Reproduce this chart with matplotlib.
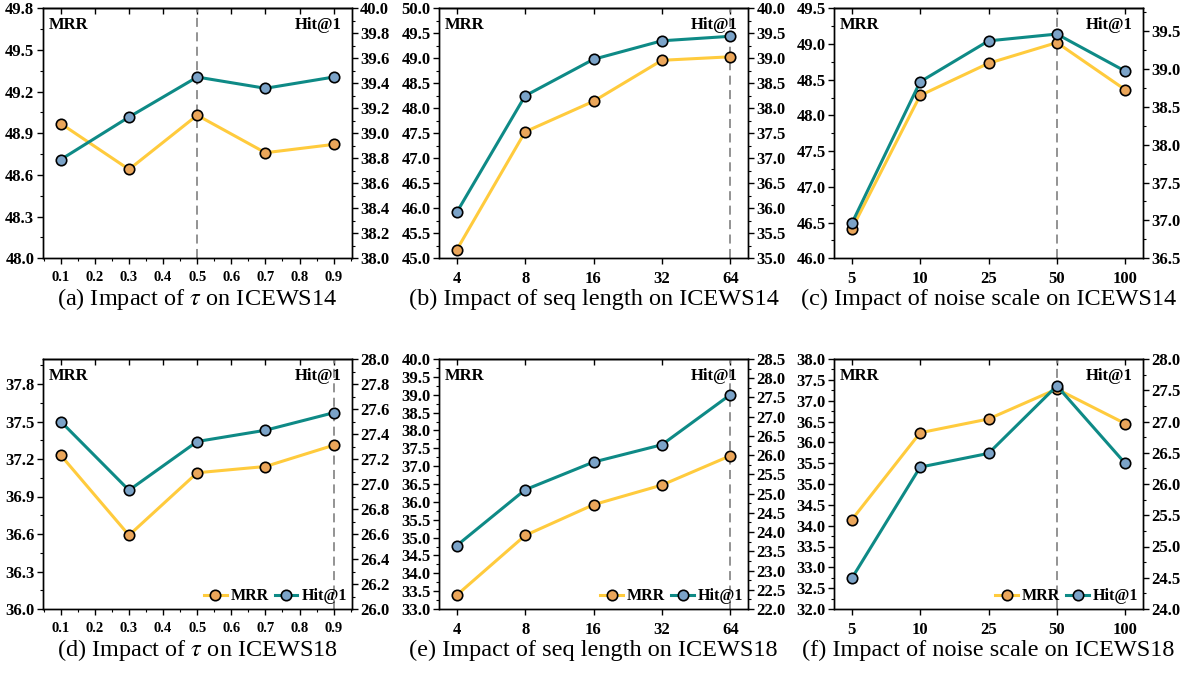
import matplotlib
matplotlib.use("Agg")
import matplotlib.pyplot as plt
import numpy as np
from matplotlib.ticker import MultipleLocator
from matplotlib.lines import Line2D

plt.rcParams["font.family"] = ["Liberation Serif", "DejaVu Serif"]
plt.rcParams["mathtext.fontset"] = "stix"
plt.rcParams["axes.linewidth"] = 1.0

# x categories
TAU = [0.1, 0.3, 0.5, 0.7, 0.9]
SEQ = ["4", "8", "16", "32", "64"]
NOISE = ["5", "10", "25", "50", "100"]

# ICEWS14
mrr_tau_14 = [48.97, 48.64, 49.03, 48.76, 48.82]
hit_tau_14 = [38.79, 39.13, 39.45, 39.36, 39.45]
mrr_seq_14 = [45.17, 47.53, 48.14, 48.96, 49.03]
hit_seq_14 = [35.92, 38.25, 38.98, 39.35, 39.44]
mrr_noise_14 = [46.41, 48.28, 48.73, 49.02, 48.36]
hit_noise_14 = [36.96, 38.83, 39.37, 39.46, 38.97]

# ICEWS18
mrr_tau_18 = [37.23, 36.59, 37.09, 37.14, 37.31]
hit_tau_18 = [27.50, 26.95, 27.34, 27.43, 27.57]
mrr_seq_18 = [33.39, 35.06, 35.92, 36.47, 37.29]
hit_seq_18 = [23.65, 25.10, 25.82, 26.27, 27.57]
mrr_noise_18 = [34.14, 36.23, 36.56, 37.28, 36.45]
hit_noise_18 = [24.49, 26.27, 26.49, 27.57, 26.33]

CAPTIONS = [
    r"(a) Impact of $\tau$ on ICEWS14",
    "(b) Impact of seq length on ICEWS14",
    "(c) Impact of noise scale on ICEWS14",
    r"(d) Impact of $\tau$ on ICEWS18",
    "(e) Impact of seq length on ICEWS18",
    "(f) Impact of noise scale on ICEWS18",
]

MRR_LINE = "#FFCB3D"
MRR_FACE = "#EBA65A"
HIT_LINE = "#0E8A86"
HIT_FACE = "#7BA3C8"

# (xcats, mrr, hit, left ylim, left step, right ylim, right step, best idx, legend)
PANELS = [
    (TAU, mrr_tau_14, hit_tau_14, (48.0, 49.8), 0.3, (38.0, 40.0), 0.2, 2, False),
    (SEQ, mrr_seq_14, hit_seq_14, (45.0, 50.0), 0.5, (35.0, 40.0), 0.5, 4, False),
    (NOISE, mrr_noise_14, hit_noise_14, (46.0, 49.5), 0.5, (36.5, 39.8), 0.5, 3, False),
    (TAU, mrr_tau_18, hit_tau_18, (36.0, 38.0), 0.3, (26.0, 28.0), 0.2, 4, True),
    (SEQ, mrr_seq_18, hit_seq_18, (33.0, 40.0), 0.5, (22.0, 28.5), 0.5, 4, True),
    (NOISE, mrr_noise_18, hit_noise_18, (32.0, 38.0), 0.5, (24.0, 28.0), 0.5, 3, True),
]

W, H = 1191, 673
fig = plt.figure(figsize=(W / 100, H / 100), dpi=100)

col_left = [42.7, 439, 834]
ax_w = 309
row_top = [8.3, 359]
ax_h = 250
cap_y = [299, 650]


def ticks_in(lo, hi, step):
    n = int(np.floor((hi - lo) / step + 1e-6))
    return lo + step * np.arange(n + 1)


for k, (xcat, mrr, hit, yl, ys, yr, rs, best, leg) in enumerate(PANELS):
    r, c = divmod(k, 3)
    x0 = col_left[c] / W
    y0 = 1 - (row_top[r] + ax_h) / H
    ax = fig.add_axes([x0, y0, ax_w / W, ax_h / H])
    ax2 = ax.twinx()

    numeric = isinstance(xcat[0], float)
    if numeric:
        xs = np.array(xcat)
        ax.set_xlim(0.047, 0.953)
        major = np.round(np.arange(0.1, 0.95, 0.1), 1)
        ax.set_xticks(major)
        ax.set_xticklabels([f"{v:.1f}" for v in major], fontweight="bold")
        ax.xaxis.set_minor_locator(MultipleLocator(0.05))
        xlabsize = 10.5
    else:
        xs = np.arange(len(xcat))
        ax.set_xlim(-0.26, len(xcat) - 1 + 0.26)
        major = xs
        ax.set_xticks(xs)
        ax.set_xticklabels(xcat, fontweight="bold")
        xlabsize = 12

    ax.axvline(xs[best], color="#8a8a8a", lw=1.3, ls=(0, (5, 3)), zorder=1)

    ax.plot(xs, mrr, color=MRR_LINE, lw=2.2, marker="o", ms=7.5,
            mfc=MRR_FACE, mec="black", mew=1.2, zorder=3)
    ax2.plot(xs, hit, color=HIT_LINE, lw=2.2, marker="o", ms=7.5,
             mfc=HIT_FACE, mec="black", mew=1.2, zorder=3)

    lt = ticks_in(yl[0], yl[1], ys)
    ax.set_ylim(*yl)
    ax.set_yticks(lt)
    ax.set_yticklabels([f"{v:.1f}" for v in lt], fontweight="bold")
    ax.yaxis.set_minor_locator(MultipleLocator(ys / 2))
    rt = ticks_in(yr[0], yr[1], rs)
    ax2.set_ylim(*yr)
    ax2.set_yticks(rt)
    ax2.set_yticklabels([f"{v:.1f}" for v in rt], fontweight="bold")
    ax2.yaxis.set_minor_locator(MultipleLocator(rs / 2))

    ax.tick_params(axis="y", which="major", direction="out", length=4, width=1, labelsize=12, pad=2)
    ax.tick_params(axis="y", which="minor", direction="out", length=2, width=0.8)
    ax2.tick_params(axis="y", which="major", direction="out", length=4, width=1, labelsize=12, pad=2)
    ax2.tick_params(axis="y", which="minor", direction="out", length=2, width=0.8)
    ax.tick_params(axis="x", which="major", direction="out", length=4, width=1, labelsize=xlabsize, pad=5)
    ax.tick_params(axis="x", which="minor", direction="out", length=2, width=0.8)

    top = ax.secondary_xaxis("top")
    top.set_xticks(major)
    top.tick_params(axis="x", direction="in", length=4, width=1, labeltop=False)

    ax.text(0.02, 0.965, "MRR", transform=ax.transAxes, ha="left", va="top",
            fontsize=12, fontweight="bold")
    ax.text(0.968, 0.965, "Hit@1", transform=ax.transAxes, ha="right", va="top",
            fontsize=12, fontweight="bold")

    if leg:
        handles = [
            Line2D([], [], color=MRR_LINE, lw=2.2, marker="o", ms=7.5, mfc=MRR_FACE,
                   mec="black", mew=1.2, label="MRR"),
            Line2D([], [], color=HIT_LINE, lw=2.2, marker="o", ms=7.5, mfc=HIT_FACE,
                   mec="black", mew=1.2, label="Hit@1"),
        ]
        ax2.legend(handles=handles, loc="lower right", ncol=2, frameon=False,
                   prop={"size": 11.5, "weight": "bold"}, handlelength=1.4,
                   handletextpad=0.25, columnspacing=0.4, borderaxespad=0.1,
                   borderpad=0.2)

    fig.text((col_left[c] + ax_w / 2) / W, 1 - cap_y[r] / H, CAPTIONS[k],
             ha="center", va="center", fontsize=17.5)

fig.savefig("out.png", dpi=100)
